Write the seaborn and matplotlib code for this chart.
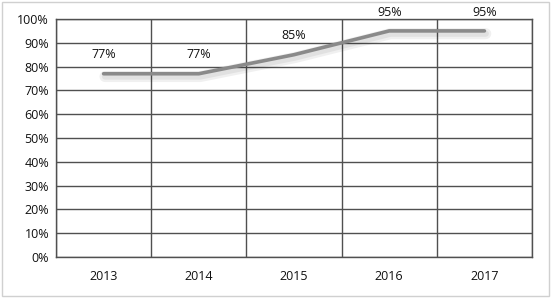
import matplotlib
matplotlib.use("Agg")
import matplotlib.pyplot as plt
import matplotlib.patheffects as pe
from matplotlib.ticker import FixedLocator, PercentFormatter
import seaborn as sns
import pandas as pd
import numpy as np

years = ["2013", "2014", "2015", "2016", "2017"]
values = [77, 77, 85, 95, 95]
labels = ["77%", "77%", "85%", "95%", "95%"]

sns.set_style("white")
plt.rcParams['font.family'] = ['Open Sans', 'DejaVu Sans']

fig = plt.figure(figsize=(5.51, 2.98), dpi=100)
ax = fig.add_axes([56/551, 41/298, 476/551, 238/298])

df = pd.DataFrame({"x": np.arange(len(years)), "y": values})
sns.lineplot(data=df, x="x", y="y", ax=ax, color="#8a8a8a", linewidth=2.6,
             path_effects=[pe.SimpleLineShadow(offset=(1, -2), shadow_color="#000000", alpha=0.06, linewidth=8),
                           pe.SimpleLineShadow(offset=(1, -2), shadow_color="#000000", alpha=0.06, linewidth=4.5),
                           pe.Normal()], zorder=3)

ax.set_xlim(-0.5, len(years) - 0.5)
ax.set_ylim(0, 100)
ax.yaxis.set_major_locator(FixedLocator(np.arange(0, 101, 10)))
ax.yaxis.set_major_formatter(PercentFormatter(decimals=0))
ax.set_xticks(np.arange(len(years)))
ax.set_xticklabels(years)
ax.xaxis.set_minor_locator(FixedLocator(np.arange(-0.5, len(years), 1.0)))
ax.grid(True, axis="y", which="major", color="#505050", linewidth=1.0)
ax.grid(True, axis="x", which="minor", color="#505050", linewidth=1.0)
ax.grid(False, axis="x", which="major")
ax.tick_params(axis="both", which="both", length=0, labelsize=9, colors="#111111")
ax.tick_params(axis="x", pad=9)
ax.tick_params(axis="y", pad=5)
ax.set_xlabel("")
ax.set_ylabel("")
for s in ax.spines.values():
    s.set_color("#505050")
    s.set_linewidth(1.0)
ax.set_axisbelow(True)

for i, (v, t) in enumerate(zip(values, labels)):
    ax.annotate(t, (i, v), xytext=(0, 13.5), textcoords="offset points",
                ha="center", va="center", fontsize=9, color="#111111", clip_on=False)

fig.patches.append(plt.Rectangle((2/551, 2/298), 547/551, 294/298, transform=fig.transFigure,
                                 fill=False, edgecolor="#d0d0d0", linewidth=1))

fig.savefig("out.png", dpi=100, facecolor="white")
